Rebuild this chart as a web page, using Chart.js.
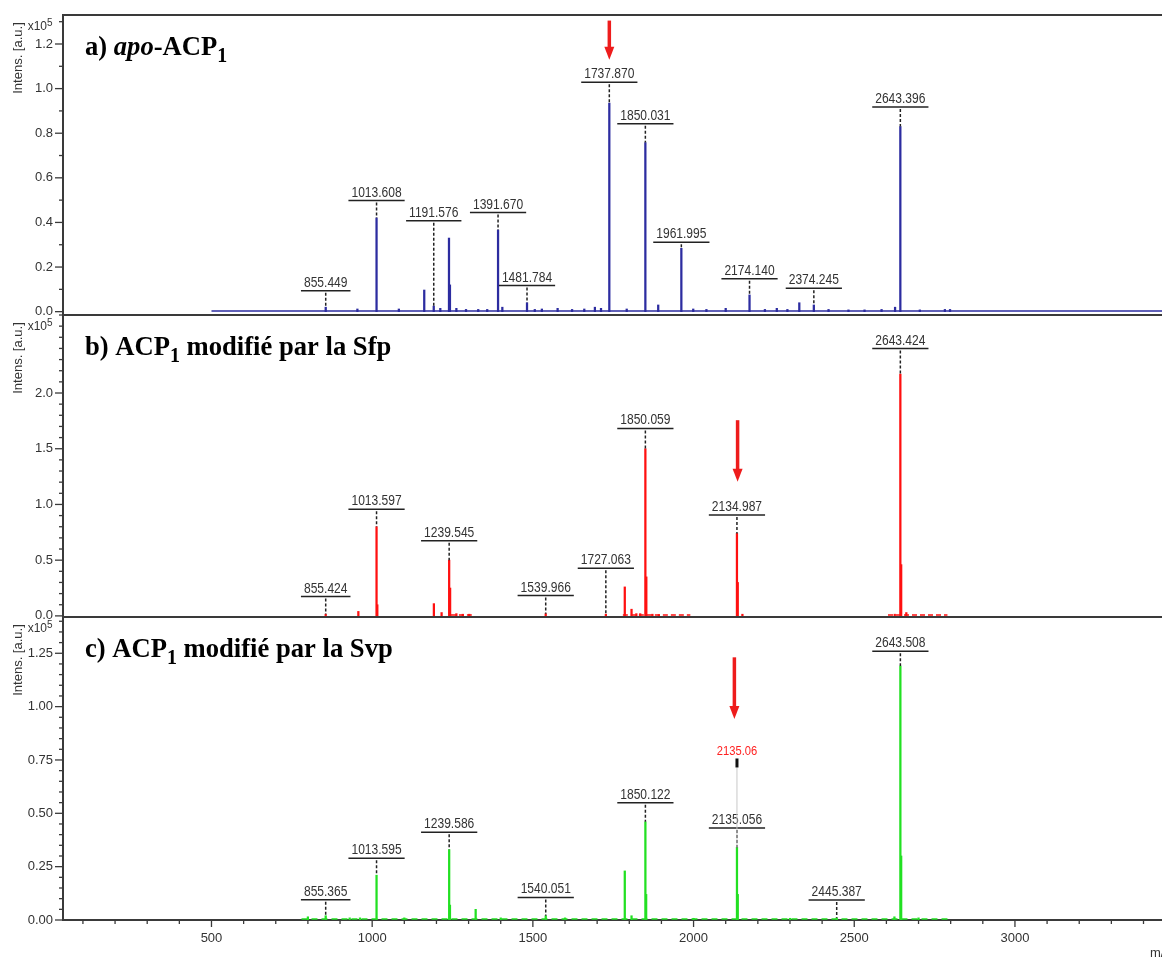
<!DOCTYPE html>
<html>
<head>
<meta charset="utf-8">
<script src="https://cdn.jsdelivr.net/npm/chart.js@4.4.1/dist/chart.umd.min.js"></script>
<style>
  html, body { margin: 0; padding: 0; background: #fff; overflow: hidden; }
  body { width: 1162px; height: 958px; position: relative; }
  canvas { position: absolute; left: 0; }
</style>
</head>
<body>
<canvas id="chartA" width="1170" height="330" style="top:0px"></canvas>
<canvas id="chartB" width="1170" height="330" style="top:300px"></canvas>
<canvas id="chartC" width="1170" height="356" style="top:602px"></canvas>
<script>
// a) apo-ACP1 (blue)
const mzA  = [855.449, 954, 1013.608, 1083, 1162, 1191.576, 1212, 1239, 1242, 1262, 1292, 1330, 1358, 1391.670, 1405, 1481.784, 1506, 1528, 1577, 1622, 1660, 1693, 1712, 1737.870, 1792, 1850.031, 1890, 1961.995, 1999, 2040, 2100, 2174.140, 2222, 2259, 2292, 2329, 2374.245, 2420, 2482, 2532, 2585, 2627, 2643.396, 2704, 2782, 2798];
const intA = [0.02, 0.012, 0.42, 0.012, 0.097, 0.025, 0.015, 0.33, 0.12, 0.015, 0.01, 0.01, 0.01, 0.366, 0.02, 0.04, 0.01, 0.012, 0.015, 0.01, 0.012, 0.02, 0.015, 0.935, 0.012, 0.758, 0.03, 0.284, 0.012, 0.01, 0.015, 0.075, 0.01, 0.015, 0.01, 0.04, 0.03, 0.01, 0.008, 0.008, 0.01, 0.02, 0.83, 0.008, 0.01, 0.01];
const labMzA  = [855.449, 1013.608, 1191.576, 1391.670, 1481.784, 1737.870, 1850.031, 1961.995, 2174.140, 2374.245, 2643.396];
const labLvlA = [0.094, 0.498, 0.407, 0.444, 0.117, 1.029, 0.842, 0.311, 0.147, 0.105, 0.917];
const baseMzA  = [500, 3470];
const baseIntA = [0.003, 0.003];

// b) ACP1 + Sfp (red)
const mzB  = [855.424, 957, 1013.597, 1016, 1192, 1216, 1239.545, 1242.5, 1262, 1282, 1302, 1539.966, 1727.063, 1786, 1807, 1822, 1834, 1850.059, 1853, 1872, 1892, 2134.987, 2137.5, 2152, 2626, 2643.424, 2646, 2662];
const intB = [0.015, 0.04, 0.80, 0.1, 0.11, 0.03, 0.50, 0.25, 0.02, 0.015, 0.015, 0.02, 0.015, 0.26, 0.06, 0.02, 0.02, 1.50, 0.35, 0.015, 0.012, 0.74, 0.3, 0.015, 0.015, 2.17, 0.46, 0.03];
const labMzB  = [855.424, 1013.597, 1239.545, 1539.966, 1727.063, 1850.059, 2134.987, 2643.424];
const labLvlB = [0.173, 0.956, 0.675, 0.182, 0.427, 1.682, 0.905, 2.399];
const baseMzB  = [1245, 1310, 1311, 1780, 1990, 1991, 2605, 2790];
const baseIntB = [0.008, 0.008, null, 0.008, 0.008, null, 0.008, 0.008];

// c) ACP1 + Svp (green)
const mzC  = [800, 855.365, 930, 962, 1013.595, 1100, 1239.586, 1242, 1322, 1400, 1540.051, 1600, 1786, 1807, 1850.122, 1852.5, 2000, 2135.056, 2137.5, 2300, 2445.387, 2625, 2643.508, 2646, 2700];
const intC = [0.015, 0.02, 0.01, 0.01, 0.21, 0.01, 0.33, 0.07, 0.05, 0.01, 0.02, 0.01, 0.23, 0.02, 0.46, 0.12, 0.008, 0.34, 0.12, 0.008, 0.01, 0.015, 1.19, 0.3, 0.01];
const labMzC  = [855.365, 1013.595, 1239.586, 1540.051, 1850.122, 2135.056, 2445.387, 2643.508];
const labLvlC = [0.095, 0.289, 0.411, 0.106, 0.549, 0.431, 0.094, 1.259];
const baseMzC  = [780, 2800];
const baseIntC = [0.005, 0.005];

// red marker in panel c
const markMzC = 2135.06;
const markLvlC = 0.757;

// red arrows (m/z, top, tip)
const arrowMz  = [1737.9, 2137, 2127];
const arrowTop = [1.305, 1.756, 1.231];
const arrowTip = [1.129, 1.203, 0.942];

const titleA = [['a) ', 'bold'], ['apo', 'italic bold'], ['-ACP', 'bold'], ['1', 'sub']];
const titleB = [['b) ACP', 'bold'], ['1', 'sub'], [' modifié par la Sfp', 'bold']];
const titleC = [['c) ACP', 'bold'], ['1', 'sub'], [' modifié par la Svp', 'bold']];

const SANS = '"Liberation Sans", Arial, sans-serif';
const SERIF = '"Liberation Serif", "Times New Roman", serif';
const SQ = 0.86;
Chart.defaults.font.family = SANS;

function line(ctx, x1, y1, x2, y2) {
    ctx.beginPath();
    ctx.moveTo(x1, y1);
    ctx.lineTo(x2, y2);
    ctx.stroke();
}

function panelPlugin(p) {
    return {
        id: 'panelDeco',
        afterDraw(chart) {
            const ctx = chart.ctx;
            const a = chart.chartArea;
            const xs = chart.scales.x;
            const ys = chart.scales.y;
            ctx.save();

            // frame line on top of the panel
            ctx.strokeStyle = '#3a3a3a';
            ctx.lineWidth = 2;
            line(ctx, a.left - 1, a.top, chart.width, a.top);

            // y ticks, long for labelled ones
            ctx.lineWidth = 1.3;
            ys.ticks.forEach(t => {
                const y = ys.getPixelForValue(t.value);
                line(ctx, a.left, y, a.left - (t.label ? 8 : 4), y);
            });
            if (p.showX) {
                xs.ticks.forEach(t => {
                    const x = xs.getPixelForValue(t.value);
                    line(ctx, x, a.bottom, x, a.bottom + (t.label ? 7 : 4));
                });
                ctx.fillStyle = '#333';
                ctx.font = '13px ' + SANS;
                ctx.textAlign = 'left';
                ctx.fillText('m/z', a.right - 16, a.bottom + 37);
            }

            // axis title and exponent
            ctx.fillStyle = '#333';
            ctx.save();
            ctx.translate(18, a.top + 43);
            ctx.rotate(-Math.PI / 2);
            ctx.font = '13px ' + SANS;
            ctx.textAlign = 'center';
            ctx.textBaseline = 'middle';
            ctx.fillText('Intens. [a.u.]', 0, 0);
            ctx.restore();
            ctx.textBaseline = 'alphabetic';
            ctx.font = '12px ' + SANS;
            ctx.textAlign = 'right';
            ctx.fillText('x10', 47, a.top + 15);
            ctx.font = '10px ' + SANS;
            ctx.textAlign = 'left';
            ctx.fillText('5', 47, a.top + 11);

            // panel title
            ctx.save();
            ctx.translate(a.left + 22, a.top + 40);
            ctx.scale(0.95, 1);
            ctx.fillStyle = '#000';
            let cx = 0;
            p.title.forEach(([txt, st]) => {
                let dy = 0;
                if (st === 'sub') {
                    ctx.font = 'bold 21px ' + SERIF;
                    dy = 7;
                } else {
                    ctx.font = st + ' 28px ' + SERIF;
                }
                ctx.fillText(txt, cx, dy);
                cx += ctx.measureText(txt).width;
            });
            ctx.restore();

            // peak labels
            ctx.font = '14px ' + SANS;
            ctx.textAlign = 'center';
            p.labMz.forEach((m, i) => {
                const x = xs.getPixelForValue(m);
                const yl = ys.getPixelForValue(p.labLvl[i]);
                const txt = m.toFixed(3);
                const w = ctx.measureText(txt).width * SQ;
                ctx.fillStyle = '#333';
                ctx.save();
                ctx.translate(x, yl - 4);
                ctx.scale(SQ, 1);
                ctx.fillText(txt, 0, 0);
                ctx.restore();
                ctx.strokeStyle = '#222';
                ctx.lineWidth = 1.5;
                ctx.setLineDash([]);
                line(ctx, x - w / 2 - 3, yl, x + w / 2 + 3, yl);
                const k = p.mz.indexOf(m);
                const py = ys.getPixelForValue(k >= 0 ? p.int[k] : 0);
                ctx.setLineDash([3, 2]);
                line(ctx, x, yl + 2, x, py);
                ctx.setLineDash([]);
            });

            // red marker (panel c)
            if (p.markMz) {
                const x = xs.getPixelForValue(p.markMz);
                const ym = ys.getPixelForValue(p.markLvl);
                const k = p.mz.indexOf(2135.056);
                const py = ys.getPixelForValue(p.int[k]);
                ctx.strokeStyle = '#c8c8c8';
                ctx.lineWidth = 1;
                line(ctx, x, ym + 9, x, py);
                ctx.strokeStyle = '#111';
                ctx.lineWidth = 3;
                line(ctx, x, ym, x, ym + 9);
                ctx.fillStyle = '#ff2020';
                ctx.font = '13px ' + SANS;
                ctx.save();
                ctx.translate(x, ym - 3);
                ctx.scale(SQ, 1);
                ctx.fillText(p.markMz.toFixed(2), 0, 0);
                ctx.restore();
            }

            // red arrow
            const ax = xs.getPixelForValue(arrowMz[p.idx]);
            const y0 = ys.getPixelForValue(arrowTop[p.idx]);
            const y1 = ys.getPixelForValue(arrowTip[p.idx]);
            ctx.fillStyle = '#ee1c1c';
            ctx.fillRect(ax - 1.75, y0, 3.5, y1 - y0 - 12);
            ctx.beginPath();
            ctx.moveTo(ax - 5, y1 - 13);
            ctx.lineTo(ax + 5, y1 - 13);
            ctx.lineTo(ax, y1);
            ctx.closePath();
            ctx.fill();

            ctx.restore();
        }
    };
}

function makePanel(id, p) {
    const datasets = [
        {
            type: 'line',
            data: p.baseMz.map((m, i) => ({x: m, y: p.baseInt[i]})),
            borderColor: p.color,
            borderWidth: 1.5,
            borderDash: p.dash,
            pointRadius: 0,
            spanGaps: false,
            order: 2
        },
        {
            type: 'bar',
            data: p.mz.map((m, i) => ({x: m, y: p.int[i]})),
            backgroundColor: p.color,
            barThickness: 1.6,
            borderWidth: 0,
            order: 1
        }
    ];

    return new Chart(document.getElementById(id), {
        type: 'bar',
        data: { datasets },
        options: {
            responsive: false,
            animation: false,
            layout: { padding: { top: 15, bottom: p.padBottom, left: 0, right: 4 } },
            plugins: { legend: { display: false }, tooltip: { enabled: false } },
            scales: {
                x: {
                    type: 'linear',
                    min: 38,
                    max: 3470,
                    offset: false,
                    display: p.showX,
                    grid: { display: false, drawTicks: false },
                    border: { display: true, color: '#3a3a3a', width: 2 },
                    ticks: {
                        stepSize: 100,
                        autoSkip: false,
                        maxRotation: 0,
                        includeBounds: false,
                        padding: 11,
                        color: '#333',
                        font: { size: 13 },
                        callback: v => (Math.round(v) % 500 === 0 ? String(Math.round(v)) : '')
                    },
                    afterFit: s => {
                        if (p.showX) s.height = 38;
                        s.paddingLeft = 0;
                        s.paddingRight = 0;
                    }
                },
                y: {
                    type: 'linear',
                    min: p.yMin,
                    max: p.yMax,
                    grid: { display: false, drawTicks: false },
                    border: { display: true, color: '#3a3a3a', width: 2 },
                    ticks: {
                        stepSize: p.step,
                        autoSkip: false,
                        includeBounds: false,
                        padding: 10,
                        color: '#333',
                        font: { size: 13 },
                        callback: p.tickLabel
                    },
                    afterFit: s => {
                        s.width = 63;
                        s.paddingTop = 0;
                        s.paddingBottom = 0;
                    }
                }
            }
        },
        plugins: [panelPlugin(p)]
    });
}

makePanel('chartA', {
    idx: 0, title: titleA, color: '#2c2ca0', dash: [],
    mz: mzA, int: intA, labMz: labMzA, labLvl: labLvlA, baseMz: baseMzA, baseInt: baseIntA,
    yMin: -0.015, yMax: 1.33, step: 0.1, padBottom: 15, showX: false,
    tickLabel: v => (Math.round(v * 10) % 2 === 0 ? v.toFixed(1) : '')
});

makePanel('chartB', {
    idx: 1, title: titleB, color: '#ff1010', dash: [5, 3],
    mz: mzB, int: intB, labMz: labMzB, labLvl: labLvlB, baseMz: baseMzB, baseInt: baseIntB,
    yMin: -0.01, yMax: 2.70, step: 0.1, padBottom: 13, showX: false,
    tickLabel: v => (Math.round(v * 10) % 5 === 0 && v < 2.2 ? v.toFixed(1) : '')
});

makePanel('chartC', {
    idx: 2, title: titleC, color: '#22e022', dash: [6, 4],
    mz: mzC, int: intC, labMz: labMzC, labLvl: labLvlC, baseMz: baseMzC, baseInt: baseIntC,
    markMz: markMzC, markLvl: markLvlC,
    yMin: 0, yMax: 1.42, step: 0.05, padBottom: 0, showX: true,
    tickLabel: v => (Math.round(v * 100) % 25 === 0 ? v.toFixed(2) : '')
});
</script>
</body>
</html>
